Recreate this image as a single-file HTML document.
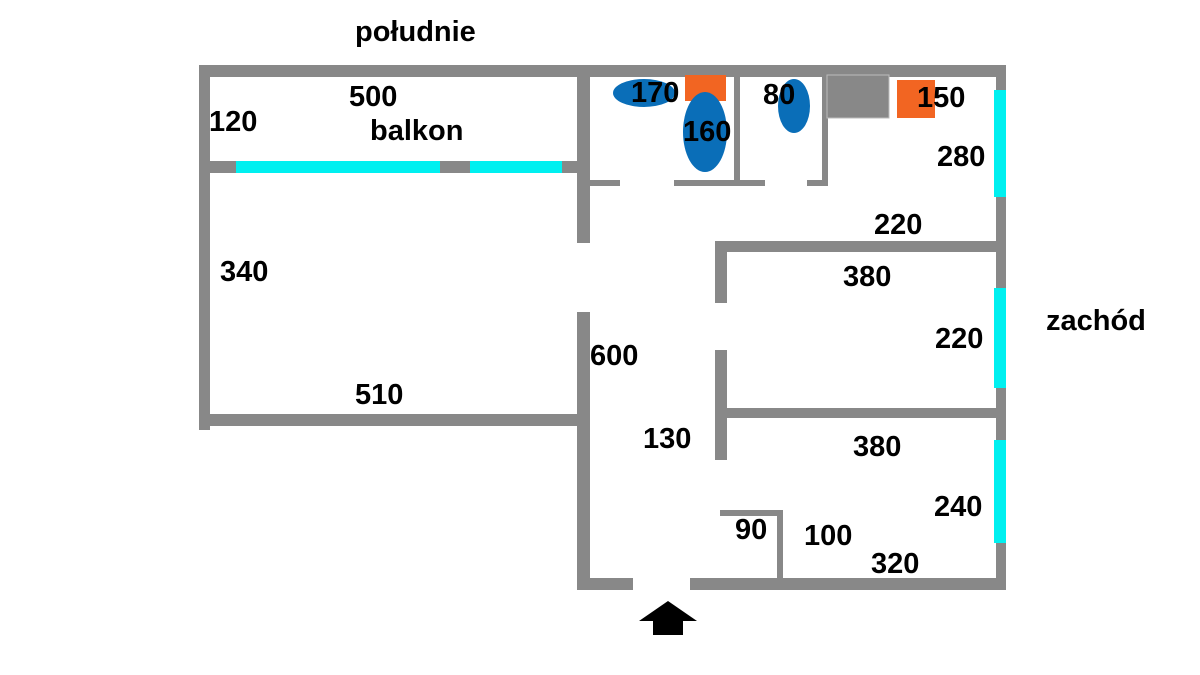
<!DOCTYPE html>
<html><head><meta charset="utf-8"><style>
html,body{margin:0;padding:0;background:#fff;width:1200px;height:675px;overflow:hidden}
text{font-family:"Liberation Sans",Arial,sans-serif;font-weight:bold;font-size:29px;fill:#000}
</style></head><body>
<svg width="1200" height="675" viewBox="0 0 1200 675" xmlns="http://www.w3.org/2000/svg">
<g fill="#888">
<rect x="199" y="65" width="807" height="12"/>
<rect x="199" y="65" width="11" height="365"/>
<rect x="199" y="161" width="379" height="12"/>
<rect x="199" y="414" width="379" height="12"/>
<rect x="577" y="65" width="13" height="178"/>
<rect x="577" y="312" width="13" height="278"/>
<rect x="577" y="578" width="56" height="12"/>
<rect x="690" y="578" width="316" height="12"/>
<rect x="996" y="65" width="10" height="525"/>
<rect x="590" y="180" width="30" height="6"/>
<rect x="674" y="180" width="91" height="6"/>
<rect x="807" y="180" width="21" height="6"/>
<rect x="734" y="75" width="6" height="111"/>
<rect x="822" y="75" width="6" height="111"/>
<rect x="827" y="75" width="62" height="43" stroke="#bbb" stroke-width="1"/>
<rect x="715" y="241" width="291" height="11"/>
<rect x="715" y="241" width="12" height="62"/>
<rect x="715" y="350" width="12" height="110"/>
<rect x="727" y="408" width="279" height="10"/>
<rect x="720" y="510" width="62" height="6"/>
<rect x="777" y="510" width="6" height="72"/>
</g>
<g fill="#00f0f0">
<rect x="236" y="161" width="204" height="12"/>
<rect x="470" y="161" width="92" height="12"/>
<rect x="994" y="90" width="12" height="107"/>
<rect x="994" y="288" width="12" height="100"/>
<rect x="994" y="440" width="12" height="103"/>
</g>
<g fill="#f26522">
<rect x="685" y="75" width="41" height="26"/>
<rect x="897" y="80" width="38" height="38"/>
</g>
<g fill="#0a6eb8">
<ellipse cx="644" cy="93" rx="31" ry="14"/>
<ellipse cx="705" cy="132" rx="22" ry="40"/>
<ellipse cx="794" cy="106" rx="16" ry="27"/>
</g>
<polygon points="668,601 697,621 683,621 683,635 653,635 653,621 639,621" fill="#000"/>
<text x="355" y="41">południe</text>
<text x="1046" y="330">zachód</text>
<text x="349" y="106">500</text>
<text x="209" y="131">120</text>
<text x="370" y="140">balkon</text>
<text x="220" y="281">340</text>
<text x="355" y="404">510</text>
<text x="631" y="102">170</text>
<text x="683" y="141">160</text>
<text x="763" y="104">80</text>
<text x="917" y="107">150</text>
<text x="937" y="166">280</text>
<text x="874" y="234">220</text>
<text x="843" y="286">380</text>
<text x="935" y="348">220</text>
<text x="590" y="365">600</text>
<text x="643" y="448">130</text>
<text x="853" y="456">380</text>
<text x="934" y="516">240</text>
<text x="735" y="539">90</text>
<text x="804" y="545">100</text>
<text x="871" y="573">320</text>
</svg>
</body></html>
